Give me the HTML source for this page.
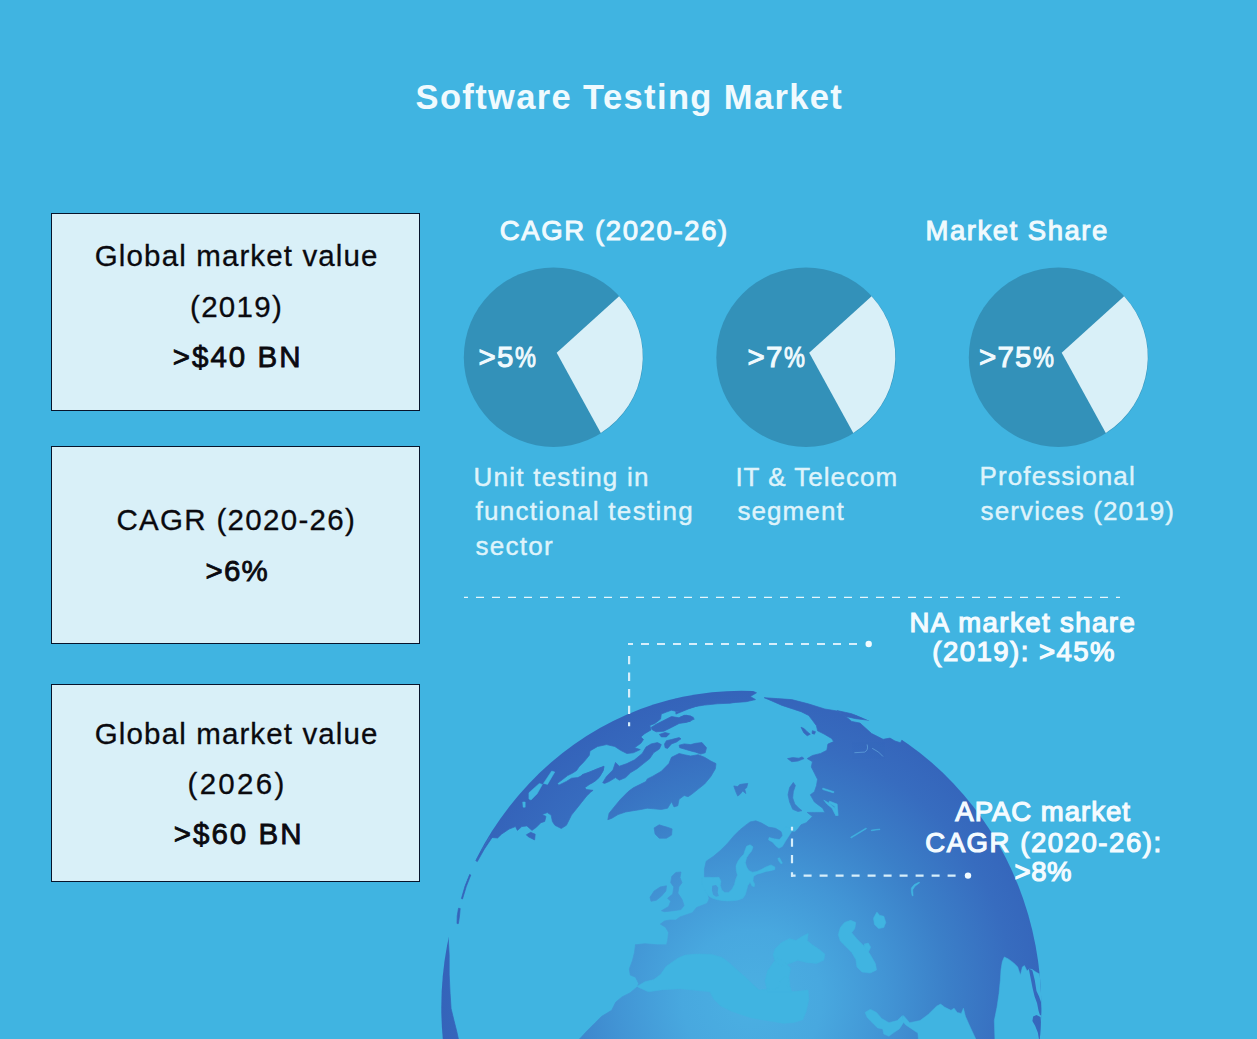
<!DOCTYPE html>
<html lang="en">
<head>
<meta charset="utf-8">
<title>Software Testing Market</title>
<style>
html,body{margin:0;padding:0;}
body{width:1257px;height:1039px;overflow:hidden;background:#40b4e1;font-family:"Liberation Sans",sans-serif;}
#page{position:relative;width:1257px;height:1039px;overflow:hidden;background:#40b4e1;}
.t{position:absolute;white-space:nowrap;margin:0;line-height:1;}
#title{left:415.5px;top:80.3px;font-size:34.5px;font-weight:bold;color:#f0fafe;letter-spacing:1.37px;}
.box{position:absolute;left:51px;width:367px;height:196px;border:1px solid #07142b;background:#d9f0f8;}
.bx{font-size:29.5px;color:#0a0a0f;-webkit-text-stroke:0.3px #0a0a0f;}
.bb{-webkit-text-stroke:0.8px #0a0a0f;}
.hd{font-size:27.5px;color:#f0fafe;-webkit-text-stroke:1px #f0fafe;}
.pc{font-size:29.5px;color:#f0fafe;-webkit-text-stroke:1px #f0fafe;}
.pc span{display:inline-block;transform:scaleX(.8);transform-origin:0 50%;}
.cap{font-size:26px;color:#def3fb;-webkit-text-stroke:0.45px #def3fb;}
.lab{font-size:27.5px;color:#f4fbff;-webkit-text-stroke:1.2px #f4fbff;text-align:center;}
svg{position:absolute;left:0;top:0;}
</style>
</head>
<body>
<div id="page">

<svg id="gfx" width="1257" height="1039" viewBox="0 0 1257 1039">
  <defs>
    <radialGradient id="gl" gradientUnits="userSpaceOnUse" cx="752" cy="1000" r="318">
      <stop offset="0" stop-color="#4bb0e2"/>
      <stop offset="0.22" stop-color="#48a8df"/>
      <stop offset="0.42" stop-color="#4295d5"/>
      <stop offset="0.62" stop-color="#3b7fc8"/>
      <stop offset="0.82" stop-color="#376cbf"/>
      <stop offset="1" stop-color="#3462b9"/>
    </radialGradient>
    <clipPath id="gc"><ellipse cx="741.3" cy="1007.2" rx="300" ry="316.5"/></clipPath>
  </defs>

  <!-- GLOBE -->
  <g id="globe">
<!--GLOBE_START-->
<g clip-path="url(#gc)">
<path fill="url(#gl)" stroke="url(#gl)" stroke-width="0.7" stroke-linejoin="round" d="M464.8 866 L400 866 L400 640 L735 640 L735 702 L730.0 703.2 L717.3 703.8 L704.6 705.1 L695.7 706.4 L686.7 708.9 L679.1 712.1 L671.5 710.2 L666.4 712.1 L661.3 714.0 L660.6 719.1 L654.9 723.5 L649.8 725.5 L651.1 729.9 L644.7 733.7 L640.9 736.9 L643.5 739.5 L640.9 743.3 L634.6 747.7 L640.3 749.6 L633.3 752.8 L626.9 753.5 L620.5 750.3 L614.8 746.5 L606.5 744.6 L597.6 746.5 L590.0 750.9 L589.3 755.3 L584.2 761.6 L579.1 766.7 L576.6 770.5 L572.7 773.1 L567.6 775.6 L562.6 779.5 L557.5 783.3 L558.7 785.2 L566.4 781.4 L571.5 778.2 L577.8 777.6 L584.2 774.4 L591.8 771.2 L598.2 768.6 L603.9 766.7 L603.3 770.5 L599.5 776.9 L595.7 780.7 L589.3 784.6 L584.8 787.7 L586.7 789.6 L593.1 790.3 L590.6 792.2 L586.7 796.0 L581.6 802.4 L576.6 808.7 L571.5 815.1 L569.6 818.9 L566.4 825.3 L561.3 828.5 L554.9 825.3 L552.4 821.5 L551.1 815.1 L547.3 812.6 L542.2 814.5 L546.0 816.4 L544.7 821.5 L540.9 822.7 L535.8 827.8 L533.9 829.1 L532.0 830.4 L526.9 825.9 L521.8 826.6 L517.4 830.4 L515.5 826.6 L509.1 829.1 L501.5 834.2 L497.6 838.0 L490.0 837.4 L476.2 860Z M651.1 727.4 L656.2 724.2 L662.6 721.0 L671.5 716.5 L679.1 717.8 L684.2 715.3 L690.6 715.9 L694.4 719.1 L686.7 722.3 L679.1 723.5 L671.5 727.4 L663.8 731.2 L656.2 731.8 L652.4 729.9Z M659.4 734.4 L665.1 732.5 L669.6 733.7 L666.4 736.9 L661.3 736.9Z M664.5 743.9 L666.4 740.7 L671.5 739.5 L679.1 737.6 L681.0 738.8 L676.6 742.0 L671.5 743.9 L667.6 748.4 L665.1 747.7Z M679.1 745.2 L684.2 743.9 L690.6 744.6 L695.7 743.3 L702.0 742.6 L706.5 747.7 L705.2 752.8 L700.7 754.1 L695.7 752.2 L690.6 750.9 L684.2 749.0 L679.7 747.7Z M602.7 782.7 L606.5 776.4 L612.9 770.0 L615.5 762.4 L619.3 766.2 L626.9 763.6 L634.6 759.8 L642.2 753.5 L646.0 747.1 L651.1 743.9 L657.5 742.6 L661.3 744.6 L659.4 749.0 L653.6 752.8 L649.8 758.6 L643.5 763.6 L637.1 768.7 L630.7 772.6 L625.6 777.6 L619.3 780.2 L615.5 777.6 L609.1 781.5 L604.6 783.4Z M582.4 774.5 L590.0 771.9 L597.6 768.7 L604.0 766.2 L602.7 771.3 L598.9 777.6 L592.5 782.7 L584.9 785.3 L578.5 787.8 L577.3 781.5Z M607.8 819.7 L609.1 813.3 L614.2 806.9 L620.5 799.3 L628.2 791.6 L633.3 787.8 L640.9 784.0 L646.0 781.5 L647.3 778.9 L652.4 776.4 L661.3 771.3 L668.9 763.6 L671.5 757.3 L679.1 753.5 L684.2 754.7 L690.6 756.0 L698.2 754.7 L704.6 757.3 L710.9 761.1 L716.0 763.6 L715.4 768.7 L710.9 776.4 L704.6 784.0 L698.2 789.1 L691.8 794.2 L688.0 796.7 L684.2 795.5 L679.1 799.3 L677.8 805.7 L674.0 806.9 L671.5 801.8 L667.6 808.2 L661.3 809.5 L653.6 808.8 L647.3 808.2 L640.9 809.5 L633.3 810.7 L625.6 812.0 L618.0 814.6 L611.6 818.4Z M733.8 785.9 L737.7 786.6 L739.6 784.6 L742.7 784.0 L747.8 783.4 L746.6 787.8 L744.7 789.1 L745.9 793.6 L742.7 791.0 L740.2 794.2 L737.7 796.1 L735.7 791.6Z M526.3 834.8 L530.7 832.3 L535.2 834.2 L534.6 839.9 L530.7 838.0 L528.2 836.7Z M654.1 827.9 L659.2 824.8 L662.3 825.8 L667.5 827.3 L672.1 828.9 L671.6 835.1 L666.5 838.2 L659.2 838.2 L655.1 834.1Z M675.9 692.4 L700.7 688.3 L721.4 686.2 L742.0 686.2 L756.5 692.8 L750.3 696.5 L755.5 699.6 L746.2 701.7 L731.7 702.8 L717.2 701.7 L700.7 704.8 L688.3 709.0 L675.9 714.1Z M680.0 717.2 L686.2 715.2 L693.4 717.2 L690.3 721.4 L683.1 722.4 L677.9 721.4Z M793.3 782.4 L795.4 785.5 L793.3 791.7 L792.7 797.9 L794.8 804.1 L798.9 808.2 L802.0 810.7 L797.9 811.5 L792.7 809.3 L789.6 802.0 L788.0 794.8 L789.6 787.5Z M801.0 727.2 L804.1 728.6 L807.2 731.7 L810.3 734.2 L807.2 735.8 L803.7 732.7Z M812.4 730.7 L815.5 731.7 L814.4 734.2 L812.0 733.4Z M787.5 758.6 L792.7 757.6 L798.9 758.2 L802.0 756.9 L804.1 758.6 L797.9 761.1 L791.7 761.7Z M764.2 697.7 L771.8 700.9 L782.0 705.4 L793.5 709.2 L801.1 711.7 L808.7 715.5 L812.6 720.6 L816.4 725.7 L817.6 730.8 L824.0 734.0 L831.6 738.5 L833.6 741.6 L827.9 744.1 L826.8 750.3 L820.6 753.4 L812.4 755.5 L807.2 758.6 L812.4 761.7 L811.3 766.9 L814.4 773.1 L817.5 779.3 L816.5 785.5 L814.4 791.7 L810.3 794.8 L814.4 802.0 L822.7 808.2 L824.8 812.4 L814.4 812.4 L807.2 812.4 L812.4 816.5 L806.2 822.7 L801.0 824.8 L797.9 828.9 L794.8 832.0 L791.7 831.8 L782.4 833.5 L781.3 831.8 L775.5 828.3 L768.5 827.1 L761.6 823.1 L755.8 820.8 L750.1 821.9 L745.4 825.4 L739.7 830.0 L733.9 835.8 L727.0 843.9 L720.0 850.8 L713.1 856.6 L706.2 861.2 L704.4 869.3 L704.4 876.2 L706.2 887.8 L709.1 898.2 L708.5 900.5 L706.9 903.4 L701.7 905.5 L696.5 907.5 L692.4 912.7 L686.2 914.8 L680.0 916.9 L675.8 920.0 L669.6 920.0 L664.5 921.0 L660.3 924.1 L665.5 927.2 L668.6 932.4 L667.6 940.6 L666.5 944.8 L657.2 944.8 L644.8 943.7 L635.5 944.8 L635.5 944.5 L634.5 952.4 L632.4 960.7 L629.3 968.9 L630.3 975.1 L635.5 977.2 L638.6 983.4 L637.6 986.5 L630.3 992.7 L622.0 996.9 L615.8 1002.0 L611.7 1010.3 L601.4 1016.5 L595.2 1022.7 L586.9 1031.0 L579.6 1039.0 L572.4 1045.5 L572.4 1066.1 L1100 1100 L1100 600 L905 735 L900.4 742.7 L895 741 L890 738.1 L883.1 739.3 L871.6 733.5 L860 723.1 L851.7 721.4 L845.5 716.2 L837.2 711 L824.8 709.0 L808.2 703.8 L791.7 699.6 L777.2 698.6Z M837.2 710.6 L851.7 713.7 L869.2 720.3 L855.8 718.7 L845.5 716.4Z M650.0 897.2 L654.1 891.0 L660.3 886.9 L666.5 885.8 L665.9 891.0 L661.4 896.2 L656.2 900.3 L651.0 901.3Z M671.7 876.5 L675.8 872.4 L681.0 872.0 L680.0 877.6 L682.0 882.7 L678.9 886.9 L677.9 893.1 L682.0 899.3 L684.1 905.5 L681.0 909.6 L673.8 910.7 L664.5 911.7 L661.4 910.7 L668.6 906.5 L670.7 901.3 L667.6 898.2 L672.7 894.1 L673.8 886.9 L670.7 882.7Z M448.2 936.7 L449.2 954.9 L449.2 974.1 L450.1 993.3 L451.1 1008.6 L453.9 1020.1 L456.8 1031.6 L458.7 1040.2 L430.0 1040.2 L430.0 936.7Z M489.7 837 L483 848 L476.2 861 L477.3 861.6 L484.4 849 L491.8 838Z M469.5 874.5 L465 886 L461.4 898.6 L462.5 899 L466.3 886.5 L470.8 875Z M458.5 908.2 L457.2 916 L457 923.6 L458.4 923.6 L459.5 916 L460.2 908.5Z"/>
<path fill="#40b4e1" stroke="#40b4e1" stroke-width="0.5" stroke-linejoin="round" d="M543.4 783.4 L551.7 771.0 L554.8 772.0 L547.5 784.4Z M528.9 792.7 L539.3 783.4 L542.4 784.4 L537.2 793.8 L531.0 800.0 L528.9 798.9Z M522.7 802.0 L525.2 802.0 L525.2 807.2 L523.1 807.2Z M781.8 831.2 L785.9 827.1 L789.6 827.7 L791.7 831.4 L788.2 837.0 L785.3 841.6 L782.4 846.4 L778.9 848.3 L776.1 846.2 L772.6 842.2 L768.5 839.9 L769.1 837.5 L774.3 838.8 L779.5 839.5 L782.6 835.8Z M750.1 844.8 L753.0 846.8 L751.8 850.8 L748.9 854.3 L746.6 857.8 L745.4 862.4 L746.6 867.0 L748.9 870.5 L752.4 872.2 L757.0 871.4 L761.6 869.3 L766.2 866.8 L770.9 864.9 L774.9 867.0 L774.9 869.5 L770.9 870.7 L766.2 871.4 L761.6 873.0 L757.0 874.2 L753.5 876.5 L753.0 880.9 L754.7 884.3 L754.1 886.9 L751.8 885.7 L750.1 882.2 L747.8 885.7 L746.6 890.3 L745.2 895.0 L742.9 898.2 L738.5 900.0 L733.9 900.7 L728.1 901.0 L722.3 900.7 L716.6 899.6 L711.9 898.0 L708.5 895.9 L705.0 890.1 L701.6 883.2 L701.6 877.6 L708.5 877.2 L713.1 877.6 L718.9 877.2 L721.0 880.9 L720.3 885.5 L721.8 890.1 L724.7 892.4 L728.7 892.4 L732.2 888.9 L734.5 884.3 L735.6 879.7 L737.4 875.1 L736.2 870.5 L736.0 865.8 L737.9 861.2 L740.8 857.2 L743.7 854.3 L745.2 849.7 L746.6 846.2Z M777.8 858.3 L779.5 857.8 L782.4 863.0 L781.3 864.1 L778.9 861.2Z M775.1 948.9 L781.3 942.7 L789.6 938.6 L795.8 940.6 L802.0 936.5 L808.2 933.4 L807.2 940.6 L812.3 944.8 L818.6 948.9 L824.8 954.1 L823.7 960.3 L816.5 963.4 L806.1 962.4 L797.9 960.3 L789.6 963.4 L781.3 965.5 L775.1 961.3 L773.1 955.1Z M844.5 922.4 L850.7 920.3 L855.8 922.4 L854.8 928.6 L851.7 932.7 L856.9 938.9 L862.0 944.1 L866.2 948.3 L871.4 956.5 L875.5 963.8 L876.5 970.0 L870.3 973.1 L862.0 972.0 L856.9 966.9 L855.8 959.6 L851.7 952.4 L845.5 946.2 L840.3 941.0 L838.3 934.8 L840.3 927.6Z M864.1 944.1 L868.3 943.1 L870.7 947.2 L868.7 951.4 L865.1 950.3Z M873.4 918.3 L876.9 912.1 L879.6 915.2 L883.8 916.2 L885.8 922.4 L883.8 927.6 L878.6 928.6 L874.5 924.5Z M865.1 1012.4 L870.3 1009.3 L876.5 1012.4 L881.7 1018.6 L888.9 1022.7 L897.2 1020.6 L902.4 1015.5 L903.4 1022.7 L899.3 1028.9 L893.1 1033.1 L888.9 1036.2 L883.8 1034.1 L882.7 1028.9 L877.6 1027.9 L872.4 1022.7 L867.2 1017.5Z M903.4 1015.5 L909.6 1022.7 L920.0 1020.6 L928.2 1014.4 L936.5 1006.2 L940.6 1004.1 L944.8 1007.2 L951.0 1010.3 L954.1 1008.2 L957.2 1012.4 L961.3 1013.4 L963.4 1008.2 L965.5 1016.5 L970.6 1027.9 L975.8 1039.0 L977.9 1045.5 L918.9 1045.5 L917.9 1033.1 L911.7 1028.9 L905.5 1024.8 L902.4 1020.6Z M1004.3 956.9 L1008.3 958.9 L1013.7 962.9 L1017.7 966.9 L1020.4 975.0 L1022.4 966.9 L1024.4 965.6 L1027.1 970.9 L1029.1 968.9 L1032.4 969.6 L1035.1 971.6 L1038.5 973.4 L1048.5 973.4 L1048.5 1041.9 L995.0 1041.9 L994.3 1020.5 L997.0 1007.1 L999.0 993.7 L1000.3 980.3 L1001.0 969.6 L1002.3 961.6Z M911.3 887.9 L914.2 884.6 L919.1 882.1 L919.8 882.7 L915.0 886.2 L912.7 889.9 L913.1 896.1 L912.1 895.7 L911.3 891.4Z M637.3 986.2 L645.0 981.7 L653.8 979.6 L660.8 974.3 L666.0 966.6 L678.3 957.9 L685.3 955.1 L697.5 954.0 L711.5 954.4 L722.3 957.6 L729.3 962.9 L738.0 970.8 L746.8 978.6 L753.8 985.6 L759.0 990.0 L769.5 989.1 L778.3 988.3 L780.0 981.3 L785.3 976.0 L788.8 979.5 L787.0 986.5 L790.5 991.8 L801.0 990.9 L808.0 990.0 L808.9 998.8 L806.3 1011.0 L802.8 1019.8 L794.0 1022.4 L783.5 1023.3 L773.0 1021.5 L762.5 1019.8 L752.0 1018.0 L741.5 1014.5 L731.0 1011.0 L720.5 1005.8 L713.5 998.8 L710.0 991.8 L694.0 990.1 L680.0 988.8 L662.5 989.7 L648.5 991.8 L637.7 986.9Z M767.6 991.9 L765.1 981.1 L767.6 970.9 L773.4 962.6 L777.2 958.2 L785.5 962.6 L790.5 968.4 L789.0 977.3 L789.9 986.2 L791.8 991.9Z M823.7 800.0 L828.9 803.1 L835.1 808.3 L837.2 815.5 L835.1 814.5 L832.0 808.3 L826.8 804.1Z M822.7 788.0 L834.1 791.7 L833.5 792.9 L822.7 789.6Z M829.3 801.0 L837.2 804.1 L838.2 815.5 L835.5 815.5 L834.7 806.6 L828.9 803.1Z M850.6 837.2 L866.1 827.9 L866.5 828.7 L851.2 838.1Z M871.3 830.0 L880.0 829.0 L880.0 829.6 L871.3 830.8Z"/>
<path fill="url(#gl)" d="M1028.7 968.5 L1032.4 970.4 L1034.8 980.3 L1036.5 991.0 L1039.1 996.4 L1040.9 1001.7 L1042.1 1011.1 L1041.3 1015.4 L1039.9 1015.1 L1038.6 1011.1 L1037.0 1003.1 L1034.6 996.4 L1032.6 988.3 L1030.8 979.0Z M1033.1 1016.5 L1036.5 1015.1 L1040.5 1017.1 L1041.5 1027.2 L1041.8 1041.9 L1039.4 1041.9 L1037.8 1032.5 L1035.1 1025.8 L1032.4 1021.1Z M712.2 885.7 L716.0 884.9 L718.3 887.8 L717.7 892.4 L718.9 895.9 L716.0 896.8 L713.1 894.7 L711.9 890.1Z"/>
<g fill="none" stroke="#6fb6e6" stroke-width="0.8" opacity="0.7"><path d="M854.4 752.7 L864.6 752.1 Q868.8 750 867.1 744.5"/><path d="M872.2 748.3 L878.6 752.1 L883 756.5"/></g><!-- faint rivers -->
</g>
<!--GLOBE_END-->
</g>

  <!-- pies -->
  <g id="pies">
    <circle cx="553.5" cy="357.2" r="89.7" fill="#3391b9"/>
    <path d="M556.7 352.7 L619.1 296.2 A89.7 89.7 0 0 1 600.8 432.9 Z" fill="#d9f0f8"/>
    <circle cx="806" cy="357.2" r="89.7" fill="#3391b9"/>
    <path d="M809.2 352.7 L871.6 296.2 A89.7 89.7 0 0 1 853.3 432.9 Z" fill="#d9f0f8"/>
    <circle cx="1058.5" cy="357.2" r="89.7" fill="#3391b9"/>
    <path d="M1061.7 352.7 L1124.1 296.2 A89.7 89.7 0 0 1 1105.8 432.9 Z" fill="#d9f0f8"/>
  </g>

  <!-- separator -->
  <line x1="464" y1="597.3" x2="1120" y2="597.3" stroke="#e6f6fc" stroke-width="1.3" stroke-dasharray="8 8" stroke-dashoffset="4"/>

  <!-- connectors -->
  <g stroke="#d6eefb" stroke-width="2.2" fill="none">
    <path d="M628 644 H857" stroke-dasharray="8 8" stroke-dashoffset="3"/>
    <path d="M629.1 642.9 V726.2" stroke-dasharray="2.2 10.8 8.4 8.2 8.4 8.2 8.4 8.2 8.4 8.2 4.2 20"/>
    <path d="M791 875.6 H957" stroke-dasharray="8 8" stroke-dashoffset="3.4"/>
    <path d="M792 876.7 V826.5" stroke-dasharray="4.5 9 8.2 8.2 8.2 8.2 3.7 20"/>
  </g>
  <circle cx="868.7" cy="644" r="3.2" fill="#f2fbff"/>
  <circle cx="968" cy="875.6" r="3.2" fill="#f2fbff"/>
</svg>

<div id="title" class="t">Software Testing Market</div>

<div class="box" style="top:213px;"></div>
<div class="box" style="top:446px;"></div>
<div class="box" style="top:684px;"></div>

<div class="t bx" style="left:94.8px;top:241.4px;letter-spacing:1.13px;">Global market value</div>
<div class="t bx" style="left:190px;top:292px;letter-spacing:1.32px;">(2019)</div>
<div class="t bx bb" style="left:172.7px;top:341.7px;letter-spacing:2.03px;">&gt;$40 BN</div>

<div class="t bx" style="left:116.4px;top:505.4px;letter-spacing:1.32px;">CAGR (2020-26)</div>
<div class="t bx bb" style="left:205.5px;top:556.1px;letter-spacing:1.2px;">&gt;6%</div>

<div class="t bx" style="left:94.8px;top:719px;letter-spacing:1.13px;">Global market value</div>
<div class="t bx" style="left:187.5px;top:769.2px;letter-spacing:2.32px;">(2026)</div>
<div class="t bx bb" style="left:173.7px;top:818.8px;letter-spacing:2.03px;">&gt;$60 BN</div>

<div class="t hd" id="h1" style="left:499.7px;top:217.4px;letter-spacing:1.63px;">CAGR (2020-26)</div>
<div class="t hd" id="h2" style="left:925.5px;top:217.4px;letter-spacing:1.52px;">Market Share</div>

<div class="t pc" id="p1" style="left:478.6px;top:341.8px;letter-spacing:1.3px;">&gt;5<span>%</span></div>
<div class="t pc" id="p2" style="left:747.6px;top:341.8px;letter-spacing:1.3px;">&gt;7<span>%</span></div>
<div class="t pc" id="p3" style="left:978.9px;top:341.8px;letter-spacing:1.3px;">&gt;75<span>%</span></div>

<div class="t cap" id="c1a" style="left:473.4px;top:463.5px;letter-spacing:1.26px;">Unit testing in</div>
<div class="t cap" id="c1b" style="left:475.4px;top:498.3px;letter-spacing:1.31px;">functional testing</div>
<div class="t cap" id="c1c" style="left:475.4px;top:533.4px;letter-spacing:1.3px;">sector</div>
<div class="t cap" id="c2a" style="left:735.4px;top:463.5px;letter-spacing:1.0px;">IT &amp; Telecom</div>
<div class="t cap" id="c2b" style="left:737.4px;top:498.3px;letter-spacing:1.1px;">segment</div>
<div class="t cap" id="c3a" style="left:979.6px;top:462.7px;letter-spacing:1.09px;">Professional</div>
<div class="t cap" id="c3b" style="left:980.6px;top:497.5px;letter-spacing:1.12px;">services (2019)</div>

<div class="t lab" id="n1" style="left:909.5px;top:608.5px;letter-spacing:1.46px;">NA market share</div>
<div class="t lab" id="n2" style="left:932.3px;top:638.1px;letter-spacing:1.48px;">(2019): &gt;45%</div>

<div class="t lab" id="a1" style="left:955.3px;top:798.0px;letter-spacing:1.0px;">APAC market</div>
<div class="t lab" id="a2" style="left:925.3px;top:828.5px;letter-spacing:1.56px;">CAGR (2020-26):</div>
<div class="t lab" id="a3" style="left:1014.5px;top:858.2px;letter-spacing:0.6px;">&gt;8%</div>

</div>
</body>
</html>
